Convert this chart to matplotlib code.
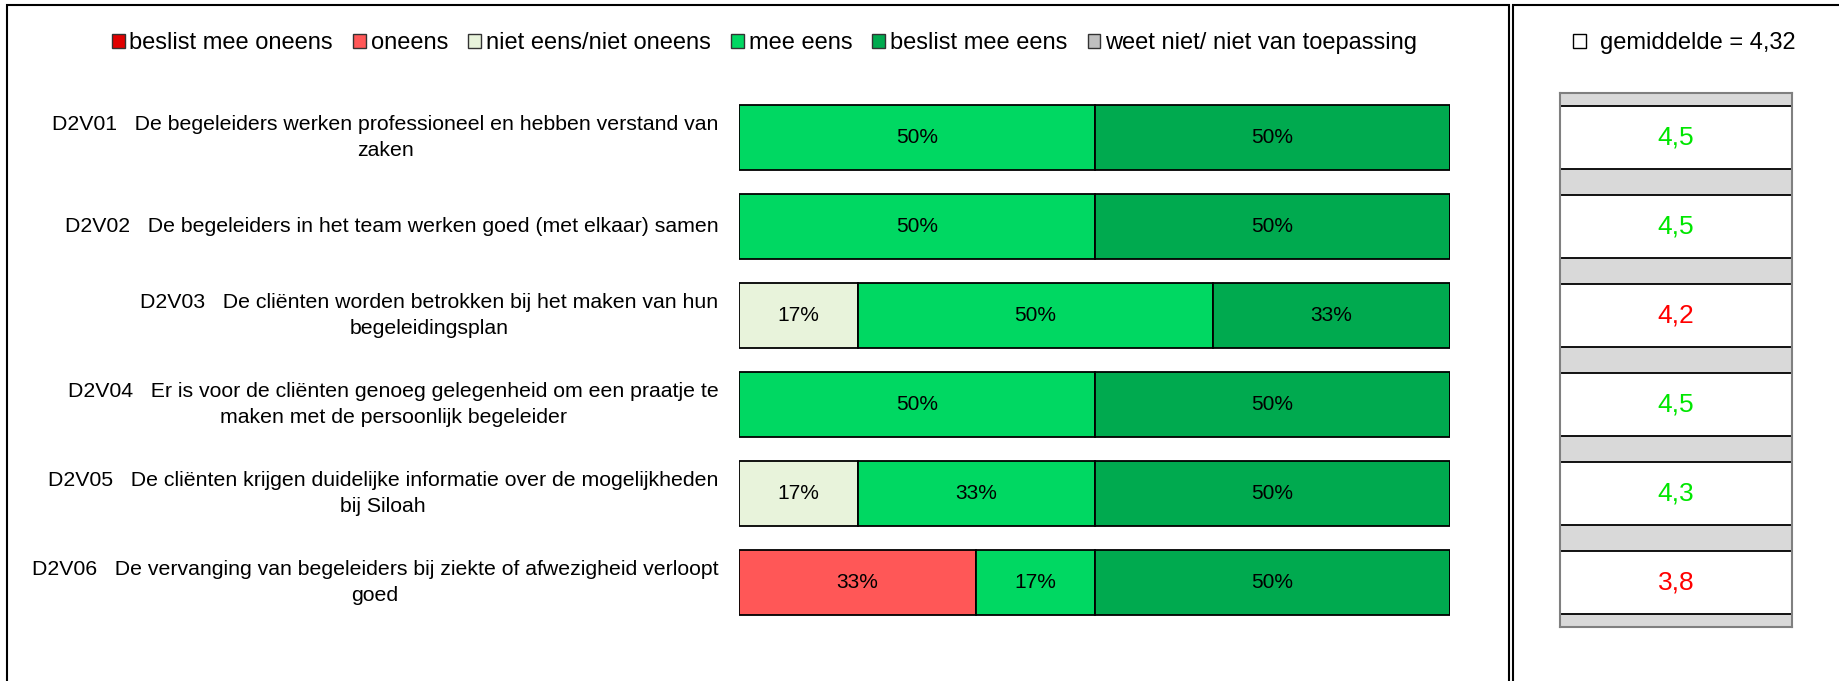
import numpy as np
import matplotlib.pyplot as plt
from matplotlib.patches import Patch, Rectangle

plt.rcParams['font.family'] = ['Liberation Sans', 'DejaVu Sans']

# data
codes = ['D2V01', 'D2V02', 'D2V03', 'D2V04', 'D2V05', 'D2V06']
questions = [
    'De begeleiders werken professioneel en hebben verstand van\nzaken',
    'De begeleiders in het team werken goed (met elkaar) samen',
    'De cliënten worden betrokken bij het maken van hun\nbegeleidingsplan',
    'Er is voor de cliënten genoeg gelegenheid om een praatje te\nmaken met de persoonlijk begeleider',
    'De cliënten krijgen duidelijke informatie over de mogelijkheden\nbij Siloah',
    'De vervanging van begeleiders bij ziekte of afwezigheid verloopt\ngoed',
]
categories = ['beslist mee oneens', 'oneens', 'niet eens/niet oneens',
              'mee eens', 'beslist mee eens', 'weet niet/ niet van toepassing']
beslist_oneens = [0, 0, 0, 0, 0, 0]
oneens = [0, 0, 0, 0, 0, 33.3]
neutraal = [0, 0, 16.7, 0, 16.7, 0]
mee_eens = [50, 50, 50, 50, 33.3, 16.7]
beslist_eens = [50, 50, 33.3, 50, 50, 50]
weet_niet = [0, 0, 0, 0, 0, 0]
gemiddelden = [4.5, 4.5, 4.2, 4.5, 4.3, 3.8]
gem_kleur = ['#00e600', '#00e600', '#ff0000', '#00e600', '#00e600', '#ff0000']
gemiddelde_totaal = 4.32

colors = ['#e00000', '#ff5757', '#e8f3db', '#00d862', '#00aa4f', '#c0c0c0']
series = [beslist_oneens, oneens, neutraal, mee_eens, beslist_eens, weet_niet]

W, H = 1839, 681
fig = plt.figure(figsize=(W / 100, H / 100), dpi=100)

y_top, y_bot = 93, 627
ax = fig.add_axes([739 / W, 1 - y_bot / H, (1450 - 739) / W, (y_bot - y_top) / H])
axr = fig.add_axes([1560 / W, 1 - y_bot / H, (1792 - 1560) / W, (y_bot - y_top) / H])

ypos = np.arange(len(codes))
left = np.zeros(len(codes))
for vals, c in zip(series, colors):
    vals = np.array(vals, dtype=float)
    ax.barh(ypos, vals, left=left, height=0.72, color=c, edgecolor='black', linewidth=1.3)
    for y, v, l in zip(ypos, vals, left):
        if v > 0:
            ax.text(l + v / 2, y, f'{v:.0f}%', ha='center', va='center', fontsize=15)
    left += vals

ax.set_xlim(0, 100)
ax.set_ylim(len(codes) - 0.5, -0.5)
ax.axis('off')

# row labels
for y, code, q in zip(ypos, codes, questions):
    ax.text(-2.9, y, f'{code}   {q}', ha='right', va='center', multialignment='center',
            fontsize=15.3, linespacing=1.45)

# right panel: mean scores
axr.set_facecolor('#d9d9d9')
for s in axr.spines.values():
    s.set_color('#808080')
    s.set_linewidth(1.5)
axr.barh(ypos, [1] * len(codes), height=0.71, color='white', edgecolor='black', linewidth=1.3)
for y, g, c in zip(ypos, gemiddelden, gem_kleur):
    axr.text(0.5, y, f'{g:.1f}'.replace('.', ','), ha='center', va='center', fontsize=19, color=c)
axr.set_xlim(0, 1)
axr.set_ylim(len(codes) - 0.5, -0.5)
axr.set_xticks([])
axr.set_yticks([])

# legends
handles = [Patch(facecolor=c, edgecolor='#333333', linewidth=1) for c in colors]
fig.legend(handles, categories, loc='center', bbox_to_anchor=(0.4157, 1 - 43 / H), ncol=6,
           frameon=False, fontsize=17, handlelength=0.55, handleheight=0.55,
           handletextpad=0.2, columnspacing=0.85)
fig.legend([Patch(facecolor='white', edgecolor='black', linewidth=1)],
           ['gemiddelde = ' + f'{gemiddelde_totaal:.2f}'.replace('.', ',')],
           loc='center', bbox_to_anchor=(0.916, 1 - 43 / H), frameon=False, fontsize=17,
           handlelength=0.55, handleheight=0.55, handletextpad=0.6)

# panel frames
fig.add_artist(Rectangle((7 / W, -0.1), (1509 - 7) / W, 1.1 - 5 / H, transform=fig.transFigure,
                         fill=False, edgecolor='black', linewidth=1.5))
fig.add_artist(Rectangle((1513 / W, -0.1), 0.3, 1.1 - 5 / H, transform=fig.transFigure,
                         fill=False, edgecolor='black', linewidth=1.5))

fig.savefig('out.png', dpi=100)
